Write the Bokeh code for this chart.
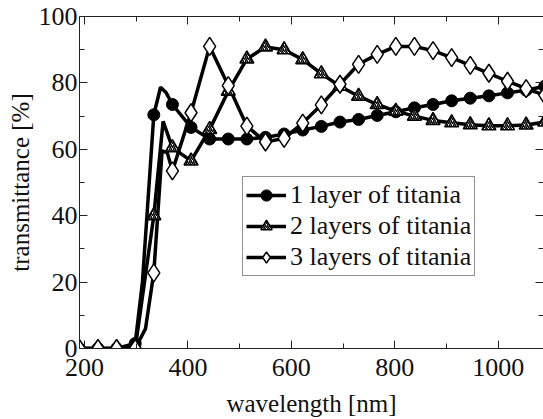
from bokeh.plotting import figure
from bokeh.models import LinearAxis, Legend, LegendItem, Range1d, FixedTicker
from bokeh.embed import file_html
from bokeh.resources import INLINE

# marker positions (wavelength in nm)
wavelength = [190, 226, 262, 298, 334, 370, 406, 442, 478, 514, 550, 586, 622,
              658, 694, 730, 766, 802, 838, 874, 910, 946, 982, 1018, 1054, 1090]
one_layer = [0, 0, 0, 1.5, 70.4, 73.5, 66.6, 63.1, 63.1, 63.1, 63.6, 64.6, 65.8,
             66.9, 68.2, 69.0, 70.2, 71.3, 72.5, 73.5, 74.6, 75.4, 76.1, 77.0, 77.8, 79.0]
two_layer = [0, 0, 0, 0, 40.0, 60.5, 56.5, 66.0, 77.5, 87.2, 90.8, 90.0, 87.0,
             82.8, 79.0, 76.0, 73.5, 71.5, 70.0, 68.7, 68.0, 67.4, 67.1, 67.1, 67.3, 68.2]
three_layer = [0, 0, 0, 0, 22.8, 53.5, 71.0, 91.0, 79.2, 67.0, 62.2, 63.3, 67.9,
               73.4, 79.6, 85.6, 88.6, 91.0, 91.0, 89.7, 87.6, 85.3, 82.9, 80.5, 78.3, 76.3]

# continuous curves (incl. points between markers)
curve1_wl = [190, 226, 262, 298, 312, 334, 347, 358, 370, 406, 442, 478, 514, 550, 586,
             622, 658, 694, 730, 766, 802, 838, 874, 910, 946, 982, 1018, 1054, 1090]
curve1_t = [0, 0, 0, 1.5, 20.0, 70.4, 78.7, 77.0, 73.5, 66.6, 63.1, 63.1, 63.1, 63.6, 64.6,
            65.8, 66.9, 68.2, 69.0, 70.2, 71.3, 72.5, 73.5, 74.6, 75.4, 76.1, 77.0, 77.8, 79.0]
curve2_wl = [190, 226, 262, 298, 334, 352, 370, 406, 442, 478, 514, 550, 586, 622,
             658, 694, 730, 766, 802, 838, 874, 910, 946, 982, 1018, 1054, 1090]
curve2_t = [0, 0, 0, 0, 40.0, 68.4, 60.5, 56.5, 66.0, 77.5, 87.2, 90.8, 90.0, 87.0,
            82.8, 79.0, 76.0, 73.5, 71.5, 70.0, 68.7, 68.0, 67.4, 67.1, 67.1, 67.3, 68.2]
curve3_wl = [190, 226, 262, 298, 318, 334, 350, 360, 370, 406, 442, 478, 514, 550, 586, 622,
             658, 694, 730, 766, 802, 838, 874, 910, 946, 982, 1018, 1054, 1090]
curve3_t = [0, 0, 0, 0, 6.0, 22.8, 59.5, 59.0, 53.5, 71.0, 91.0, 79.2, 67.0, 62.2, 63.3, 67.9,
            73.4, 79.6, 85.6, 88.6, 91.0, 91.0, 89.7, 87.6, 85.3, 82.9, 80.5, 78.3, 76.3]

x_major = [200, 400, 600, 800, 1000]
x_minor = [300, 500, 700, 900, 1100]
y_major = [0, 20, 40, 60, 80, 100]
y_minor = [10, 30, 50, 70, 90]

labels = ["1 layer of titania", "2 layers of titania", "3 layers of titania"]

FONT = "'Liberation Serif', 'Times New Roman', serif"

p = figure(width=543, height=419, output_backend="svg", toolbar_location=None,
           x_range=Range1d(190.3, 1087.6), y_range=Range1d(0, 100),
           min_border_left=79, min_border_right=0, min_border_top=16, min_border_bottom=0,
           x_axis_label="wavelength [nm]", y_axis_label="transmittance [%]")
p.grid.visible = False
p.outline_line_color = None
p.background_fill_color = "white"
p.border_fill_color = "white"

p.xaxis.ticker = FixedTicker(ticks=x_major, minor_ticks=x_minor)
p.yaxis.ticker = FixedTicker(ticks=y_major, minor_ticks=y_minor)

top_ax = LinearAxis(ticker=FixedTicker(ticks=x_major, minor_ticks=x_minor))
right_ax = LinearAxis(ticker=FixedTicker(ticks=y_major, minor_ticks=y_minor))
for ax in (top_ax, right_ax):
    ax.major_label_text_font_size = "1px"
    ax.major_label_text_color = None
    ax.axis_label_standoff = 0
    ax.major_label_standoff = 0
right_ax.axis_line_color = None
p.add_layout(top_ax, "above")
p.add_layout(right_ax, "right")

for ax in p.axis:
    if ax is not right_ax:
        ax.axis_line_color = "#222222"
    ax.major_tick_line_color = "#222222"
    ax.minor_tick_line_color = "#222222"
    ax.major_tick_in = 8
    ax.major_tick_out = 0
    ax.minor_tick_in = 5
    ax.minor_tick_out = 0
    ax.major_label_text_font = FONT
    ax.axis_label_text_font = FONT
    ax.axis_label_text_font_style = "normal"
    ax.axis_label_text_color = "#111111"

bx = p.below[0]
bx.major_label_text_font_size = "26px"
bx.major_label_text_color = "#111111"
bx.axis_label_text_font_size = "25px"
bx.major_label_standoff = 10
bx.axis_label_standoff = 11
ly = p.left[0]
ly.major_label_text_font_size = "26px"
ly.major_label_text_color = "#111111"
ly.axis_label_text_font_size = "25px"
ly.major_label_standoff = 2
ly.axis_label_standoff = 2

lw = 3.5
l1 = p.line(curve1_wl, curve1_t, line_color="black", line_width=lw)
l2 = p.line(curve2_wl, curve2_t, line_color="black", line_width=lw)
l3 = p.line(curve3_wl, curve3_t, line_color="black", line_width=lw)

m1 = p.scatter(wavelength, one_layer, marker="circle", size=12,
               fill_color="black", line_color="black", line_width=1)
m2 = p.scatter(wavelength, two_layer, marker="triangle", size=14,
               fill_color="white", line_color="black", line_width=1.5,
               hatch_pattern="right_diagonal_line", hatch_color="black",
               hatch_scale=4, hatch_weight=1.5)
m3 = p.scatter(wavelength, three_layer, marker="diamond", size=18,
               fill_color="white", line_color="black", line_width=1.5)

legend = Legend(items=[
    LegendItem(label=labels[0], renderers=[l1, m1]),
    LegendItem(label=labels[1], renderers=[l2, m2]),
    LegendItem(label=labels[2], renderers=[l3, m3]),
], location=(163, 72))
legend.border_line_color = "#222222"
legend.border_line_width = 1
legend.background_fill_color = "white"
legend.background_fill_alpha = 1
legend.label_text_font = FONT
legend.label_text_font_size = "26px"
legend.label_text_color = "#111111"
legend.glyph_width = 40
legend.glyph_height = 28
legend.label_height = 28
legend.label_standoff = 4
legend.padding = 3
legend.spacing = 1
legend.margin = 0
p.add_layout(legend)

open("out.html", "w").write(file_html(p, INLINE))
